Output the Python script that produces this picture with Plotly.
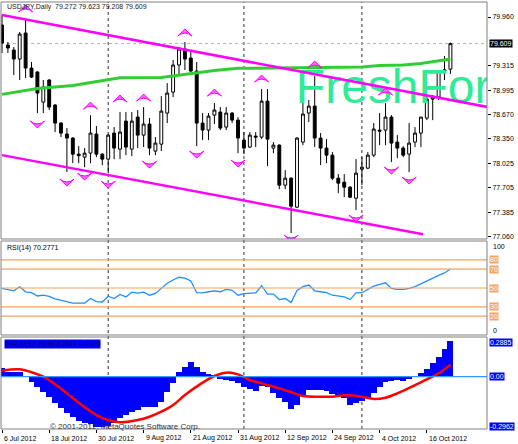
import plotly.graph_objects as go

W, H = 518, 444

# bar index 0 = 6 Jul 2012, one bar per trading day, last bar = 22 Oct 2012
date_ticks = [0, 8, 16, 24, 32, 40, 48, 56, 64, 72]
date_labels = ["6 Jul 2012", "18 Jul 2012", "30 Jul 2012", "9 Aug 2012", "21 Aug 2012",
               "31 Aug 2012", "12 Sep 2012", "24 Sep 2012", "4 Oct 2012", "16 Oct 2012"]
month_starts = [18, 41, 61]

opens = [79.854, 79.590, 79.524, 79.405, 79.749, 79.286, 79.234, 78.837, 79.128, 78.798,
         78.560, 78.415, 78.362, 78.150, 78.111, 78.163, 78.415, 78.150, 78.084, 78.428,
         78.216, 78.586, 78.216, 78.639, 78.401, 78.547, 78.190, 78.282, 78.692, 78.969,
         79.326, 79.537, 79.418, 79.247, 78.560, 78.467, 78.665, 78.705, 78.507, 78.692,
         78.599, 78.335, 78.243, 78.388, 78.375, 78.850, 78.230, 78.269, 77.741, 77.833,
         77.450, 78.309, 78.692, 78.784, 78.362, 78.230, 78.137, 77.833, 77.780, 77.714,
         77.569, 77.952, 77.965, 78.137, 78.467, 78.467, 78.639, 78.309, 78.230, 78.150,
         78.309, 78.428, 78.626, 78.877, 78.903, 79.247, 79.272]
highs = [79.986, 79.630, 79.564, 79.762, 79.920, 79.366, 79.247, 79.128, 79.141, 78.811,
         78.573, 78.494, 78.375, 78.256, 78.230, 78.665, 78.520, 78.160, 78.415, 78.507,
         78.705, 78.705, 78.705, 78.732, 78.771, 78.626, 78.375, 78.916, 79.088, 79.392,
         79.564, 79.630, 79.498, 79.366, 78.692, 78.692, 78.824, 78.771, 78.771, 78.705,
         78.639, 78.441, 78.441, 78.441, 79.009, 79.009, 78.309, 78.280, 77.939, 77.845,
         78.375, 78.837, 78.864, 79.180, 78.428, 78.348, 78.177, 77.886, 77.886, 77.728,
         78.084, 78.111, 78.177, 78.560, 78.692, 78.824, 78.665, 78.401, 78.256, 78.560,
         78.507, 78.639, 78.930, 78.930, 79.247, 79.445, 79.623]
lows = [79.485, 79.485, 79.194, 79.128, 79.154, 79.154, 78.692, 78.692, 78.732, 78.441,
        78.375, 77.913, 78.031, 78.031, 77.979, 78.031, 78.111, 78.005, 77.899, 78.084,
        78.084, 78.137, 78.124, 78.230, 78.243, 78.137, 78.137, 78.190, 78.560, 78.903,
        79.194, 79.260, 79.234, 78.256, 78.335, 78.335, 78.547, 78.467, 78.467, 78.560,
        78.163, 78.150, 78.230, 78.243, 78.348, 77.992, 78.163, 77.688, 77.688, 77.107,
        77.437, 78.269, 78.573, 78.243, 78.005, 78.031, 77.807, 77.635, 77.582, 77.569,
        77.410, 77.741, 77.952, 78.111, 78.269, 78.269, 78.045, 78.097, 78.111, 77.913,
        78.243, 78.243, 78.599, 78.599, 78.864, 79.128, 79.208]
closes = [79.616, 79.551, 79.405, 79.735, 79.286, 79.167, 78.956, 79.035, 78.771, 78.560,
          78.428, 78.362, 78.150, 78.130, 78.163, 78.428, 78.150, 78.084, 78.401, 78.230,
          78.441, 78.243, 78.586, 78.401, 78.547, 78.230, 78.296, 78.718, 78.956, 79.326,
          79.537, 79.405, 79.247, 78.560, 78.467, 78.652, 78.732, 78.494, 78.692, 78.599,
          78.362, 78.230, 78.401, 78.375, 78.850, 78.348, 78.269, 77.741, 77.833, 77.463,
          78.362, 78.679, 78.784, 78.362, 78.230, 78.137, 77.833, 77.767, 77.714, 77.582,
          77.899, 77.979, 78.137, 78.481, 78.454, 78.639, 78.296, 78.230, 78.137, 78.296,
          78.428, 78.639, 78.877, 78.903, 79.247, 79.260, 79.609]
bars = list(range(len(closes)))

# moving average (green), read at a few bars
ma_bars = [0, 6, 12, 18, 20, 27, 30, 33, 36, 40, 44, 48, 54, 61, 64, 68, 71, 74, 76]
ma_vals = [78.939, 79.016, 79.055, 79.128, 79.158, 79.163, 79.194, 79.229, 79.253, 79.282,
           79.286, 79.293, 79.300, 79.300, 79.319, 79.326, 79.346, 79.379, 79.405]

# channel trendlines (anchor points)
upper_x, upper_y = [0, 82.4], [79.986, 78.771]
lower_x, lower_y = [0, 71.36], [78.137, 77.094]

# fractal arrows (tip price)
up_bars = [4, 15, 20, 24, 31, 36, 44, 53, 65]
up_tips = [80.119, 78.837, 78.930, 78.943, 79.802, 79.009, 79.194, 79.379, 79.022]
down_bars = [6, 11, 14, 18, 25, 33, 40, 49, 60, 66, 69]
down_tips = [78.494, 77.728, 77.807, 77.701, 77.965, 78.097, 77.979, 76.988, 77.252, 77.886, 77.754]

price_ticks = [79.960, 79.315, 78.995, 78.670, 78.350, 78.025, 77.705, 77.385, 77.060]

rsi = [49.6, 48.5, 47.0, 51.3, 45.9, 45.0, 41.5, 42.5, 41.0, 38.5,
       37.0, 35.5, 34.0, 34.0, 34.0, 38.8, 35.5, 35.1, 41.3, 38.8,
       43.1, 40.5, 45.5, 44.5, 45.5, 42.3, 44.2, 49.6, 55.0, 58.5,
       61.4, 60.5, 57.5, 45.0, 44.8, 46.0, 47.0, 46.0, 48.5, 47.5,
       42.3, 44.0, 44.0, 44.8, 52.4, 43.4, 43.5, 37.7, 38.8, 34.5,
       47.5, 51.5, 53.1, 47.0, 46.0, 45.0, 42.3, 41.5, 40.5, 37.7,
       44.8, 45.0, 48.5, 52.0, 53.9, 55.5, 49.6, 48.5, 48.5, 49.5,
       51.5, 54.5, 58.0, 60.3, 63.5, 66.0, 70.28]
rsi_levels = [80, 70, 50, 30, 20]

macd_hist = [0.065, 0.035, 0.035, 0.035, 0.003, -0.036, -0.077, -0.108, -0.144, -0.187,
             -0.228, -0.259, -0.292, -0.317, -0.336, -0.343, -0.360, -0.360, -0.355, -0.336,
             -0.299, -0.276, -0.252, -0.240, -0.216, -0.216, -0.216, -0.180, -0.108, -0.043,
             0.036, 0.072, 0.103, 0.067, 0.036, 0.017, 0.006, -0.019, -0.024, -0.031,
             -0.048, -0.077, -0.089, -0.100, -0.067, -0.077, -0.120, -0.156, -0.180, -0.235,
             -0.204, -0.139, -0.096, -0.096, -0.096, -0.103, -0.124, -0.132, -0.151, -0.204,
             -0.192, -0.173, -0.156, -0.115, -0.077, -0.036, -0.029, -0.024, -0.029, -0.019,
             0.0, 0.029, 0.053, 0.101, 0.144, 0.197, 0.2574]
sig_bars = [0, 3, 5, 7, 9, 11, 14, 16, 18, 20, 23, 25, 27, 29, 31, 34, 36, 38, 40, 42,
            44, 47, 49, 51, 54, 56, 58, 61, 63, 65, 67, 70, 72, 74, 76]
sig_vals = [0.043, 0.053, 0.032, 0.0, -0.055, -0.12, -0.22, -0.276, -0.312, -0.328,
            -0.312, -0.288, -0.252, -0.204, -0.132, -0.043, 0.005, 0.029, 0.017, -0.024,
            -0.048, -0.084, -0.112, -0.139, -0.144, -0.144, -0.134, -0.144, -0.160, -0.151,
            -0.12, -0.06, -0.019, 0.024, 0.087]

FONT = "Liberation Sans, Arial, sans-serif"


def py(p):
    """pixel row -> paper y"""
    return 1 - p / H


def px(p):
    return p / W


X0, X1 = px(1), px(487)
MAIN = (239, 2)
RSI_P = (335, 241)
MACD_P = (429, 337)

fig = go.Figure()

# watermark behind everything, clipped at the chart edge
fig.add_trace(go.Scatter(x=[49.8], y=[78.99], mode="text", text=["FreshFor"],
                         textposition="middle right", cliponaxis=True,
                         textfont=dict(size=48, color="#2DEB96", family=FONT),
                         hoverinfo="skip", showlegend=False))

fig.add_trace(go.Candlestick(x=bars, open=opens, high=highs, low=lows, close=closes,
                             increasing=dict(line=dict(color="black", width=1), fillcolor="white"),
                             decreasing=dict(line=dict(color="black", width=1), fillcolor="black"),
                             whiskerwidth=0, hoverinfo="skip", showlegend=False))

fig.add_trace(go.Scatter(x=ma_bars, y=ma_vals, mode="lines", line=dict(color="#32CD32", width=3),
                         hoverinfo="skip", showlegend=False))
for lx, ly in [(upper_x, upper_y), (lower_x, lower_y)]:
    fig.add_trace(go.Scatter(x=lx, y=ly, mode="lines", line=dict(color="#FF00FF", width=2.5),
                             hoverinfo="skip", showlegend=False))

fig.add_trace(go.Scatter(x=up_bars, y=up_tips, mode="markers",
                         marker=dict(symbol="arrow-wide", angle=0, size=10, color="#FF66FF",
                                     line=dict(color="#FF00FF", width=1)),
                         hoverinfo="skip", showlegend=False))
fig.add_trace(go.Scatter(x=down_bars, y=down_tips, mode="markers",
                         marker=dict(symbol="arrow-wide", angle=180, size=10, color="#FF66FF",
                                     line=dict(color="#FF00FF", width=1)),
                         hoverinfo="skip", showlegend=False))

# RSI
fig.add_trace(go.Scatter(x=bars, y=rsi, mode="lines", yaxis="y2",
                         line=dict(color="#1E90FF", width=1.3), hoverinfo="skip", showlegend=False))

# MACD
fig.add_trace(go.Bar(x=bars, y=macd_hist, yaxis="y3", width=1, marker=dict(color="#0000FF", line=dict(width=0)),
                     hoverinfo="skip", showlegend=False))
fig.add_trace(go.Scatter(x=sig_bars, y=sig_vals, mode="lines", yaxis="y3", line_shape="spline",
                         line=dict(color="#FF0000", width=2.5), hoverinfo="skip", showlegend=False))

shapes = []
# month grid
for b in month_starts:
    shapes.append(dict(type="line", xref="x", yref="paper", x0=b, x1=b, y0=py(429), y1=py(2),
                       line=dict(color="#303030", width=1, dash="dot"), layer="below"))
# bid line
shapes.append(dict(type="line", xref="paper", yref="y", x0=X0, x1=X1, y0=closes[-1], y1=closes[-1],
                   line=dict(color="#B0B0B0", width=1, dash="dot"), layer="below"))
# RSI levels
for lv in rsi_levels:
    shapes.append(dict(type="line", xref="paper", yref="y2", x0=X0, x1=X1, y0=lv, y1=lv,
                       line=dict(color="#F4A460", width=1.2)))
# MACD zero line
shapes.append(dict(type="line", xref="paper", yref="y3", x0=X0, x1=X1, y0=0, y1=0,
                   line=dict(color="#3399FF", width=1.2)))
# panel frames
for bot, top in [MAIN, RSI_P, MACD_P]:
    shapes.append(dict(type="rect", xref="paper", yref="paper", x0=X0, x1=X1, y0=py(bot), y1=py(top),
                       line=dict(color="#808080", width=1)))

ann = []
small = dict(family=FONT, size=7, color="#000000")
ann.append(dict(text="USDJPY,Daily  79.272 79.623 79.208 79.609", x=px(5), y=py(7), xref="paper", yref="paper",
                xanchor="left", yanchor="middle", showarrow=False, font=dict(family=FONT, size=7, color="#202020")))
ann.append(dict(text="RSI(14) 70.2771", x=px(5), y=py(248), xref="paper", yref="paper",
                xanchor="left", yanchor="middle", showarrow=False, font=small))
ann.append(dict(text="MACD(12,26,9) 0.2574 0.0870", x=px(4), y=py(344), xref="paper", yref="paper",
                xanchor="left", yanchor="middle", showarrow=False, bgcolor="#0000FF", borderpad=0,
                font=dict(family=FONT, size=7, color="#000040")))
ann.append(dict(text="\u00a9 2001-2012, MetaQuotes Software Corp.", x=px(48), y=py(426), xref="paper", yref="paper",
                xanchor="left", yanchor="middle", showarrow=False, font=dict(family=FONT, size=8, color="#303030")))
# bid price label
ann.append(dict(text="79.609", x=px(489), y=closes[-1], xref="paper", yref="y", xanchor="left", yanchor="middle",
                showarrow=False, bgcolor="#000000", borderpad=0, font=dict(family=FONT, size=7, color="white")))
# RSI scale labels
ann.append(dict(text="100", x=px(491), y=py(246), xref="paper", yref="paper", xanchor="left", yanchor="middle",
                showarrow=False, font=small))
ann.append(dict(text="0", x=px(491), y=py(330), xref="paper", yref="paper", xanchor="left", yanchor="middle",
                showarrow=False, font=small))
for lv in rsi_levels:
    ann.append(dict(text=str(lv), x=px(489), y=lv, xref="paper", yref="y2", xanchor="left", yanchor="middle",
                    showarrow=False, bgcolor="#F4A460", borderpad=0,
                    font=dict(family=FONT, size=7, color="white")))
# MACD scale labels
for txt, yy in [("0.2885", py(342)), ("0.00", None), ("-0.2962", py(426))]:
    a = dict(text=txt, x=px(489), xref="paper", xanchor="left", yanchor="middle", showarrow=False,
             bgcolor="#0000FF", borderpad=0, font=dict(family=FONT, size=7, color="white"))
    if yy is None:
        a.update(y=0, yref="y3")
    else:
        a.update(y=yy, yref="paper")
    ann.append(a)
# date labels
for b, lab in zip(date_ticks, date_labels):
    ann.append(dict(text=lab, x=b, y=py(438), xref="x", yref="paper", xanchor="left", yanchor="middle",
                    showarrow=False, font=small))

fig.update_layout(
    width=W, height=H, margin=dict(l=0, r=0, t=0, b=0),
    paper_bgcolor="white", plot_bgcolor="white", showlegend=False, bargap=0,
    xaxis=dict(domain=[X0, X1], range=[-0.17, 82.2], anchor="y3", tickvals=date_ticks,
               showticklabels=False, ticks="outside", ticklen=3, tickcolor="black",
               showgrid=False, zeroline=False, showline=False, rangeslider=dict(visible=False)),
    yaxis=dict(domain=[py(MAIN[0]), py(MAIN[1])], range=[77.03, 80.158], anchor="x", side="right",
               tickvals=price_ticks, ticktext=[f"{v:.3f}" for v in price_ticks],
               ticks="outside", ticklen=3, tickcolor="black", tickfont=small,
               showgrid=False, zeroline=False, showline=False),
    yaxis2=dict(domain=[py(RSI_P[0]), py(RSI_P[1])], range=[0, 100], anchor="x",
                showticklabels=False, showgrid=False, zeroline=False),
    yaxis3=dict(domain=[py(MACD_P[0]), py(MACD_P[1])], range=[-0.3763, 0.2856], anchor="x",
                showticklabels=False, showgrid=False, zeroline=False),
    shapes=shapes, annotations=ann,
)

# page body has a default margin; drop it so the figure sits at the window origin
fig.write_html("out.html", config={"displayModeBar": False},
               post_script="document.body.style.margin='0';document.body.style.overflow='hidden';")
